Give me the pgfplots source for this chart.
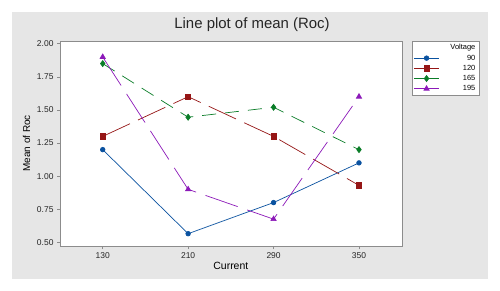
\documentclass[border=0pt]{standalone}
\usepackage{pgfplots}
\pgfplotsset{compat=1.18}
\usepackage{fontspec}
\setmainfont{Liberation Sans}
\definecolor{bggray}{RGB}{230,230,230}
\definecolor{c90}{RGB}{10,82,160}
\definecolor{c120}{RGB}{150,22,22}
\definecolor{c165}{RGB}{10,125,40}
\definecolor{c195}{RGB}{140,25,185}
\definecolor{framegray}{RGB}{140,140,140}
\begin{document}
\begin{tikzpicture}
\fill[white] (0,0) rectangle (500bp,291bp);
\fill[bggray] (12bp,12bp) rectangle (488bp,279bp);
\begin{axis}[
  at={(60bp,45bp)}, anchor=south west,
  scale only axis, width=341.7bp, height=205.3bp,
  axis background/.style={fill=white},
  axis line style={framegray},
  xmin=-0.5, xmax=3.5, ymin=0.472, ymax=2.023,
  xtick={0,1,2,3}, xticklabels={130,210,290,350},
  ytick={0.5,0.75,1,1.25,1.5,1.75,2},
  yticklabel style={/pgf/number format/fixed,/pgf/number format/zerofill,/pgf/number format/precision=2},
  /pgf/number format/assume math mode=true,
  tick align=outside, tick pos=left,
  major tick length=3bp,
  tick style={framegray, line width=0.6bp},
  ticklabel style={font=\fontsize{8.5}{10}\selectfont, text=black!85},
  every axis title shift=0pt,
  title={Line plot of mean (Roc)},
  title style={font=\fontsize{15}{18}\selectfont, text=black!85, at={(axis description cs:0.562,1.0765)}, anchor=center},
  xlabel={Current},
  xlabel style={font=\fontsize{10.5}{12}\selectfont, at={(axis description cs:0.5,-0.0974)}, anchor=center},
  ylabel={Mean of Roc},
  ylabel style={font=\fontsize{10}{12}\selectfont, at={(axis description cs:-0.0975,0.5)}, anchor=center},
  legend style={at={(axis description cs:1,1)}, anchor=north west, xshift=10.3bp,
    font=\fontsize{7.5}{8}\selectfont, draw=framegray, fill=white, inner sep=1.5bp, row sep=-0.5bp},
  legend cell align=right,
  legend image code/.code={\draw[solid,mark repeat=2,mark phase=2] plot coordinates {(0bp,0bp)(12.5bp,0bp)(25bp,0bp)};},
]
\addlegendimage{empty legend}
\addlegendentry{\makebox[34bp][r]{Voltage}}
\addplot[c90, line width=0.7bp, mark=*, mark size=2.3bp, mark options={solid,fill=c90}]
  coordinates {(0,1.20) (1,0.565) (2,0.80) (3,1.10)};
\addlegendentry{\makebox[34bp][r]{90}}
\addplot[c120, line width=0.7bp, dash pattern=on 30bp off 9bp, mark=square*, mark size=2.6bp, mark options={solid,fill=c120}]
  coordinates {(0,1.30) (1,1.60) (2,1.30) (3,0.93)};
\addlegendentry{\makebox[34bp][r]{120}}
\addplot[c165, line width=0.7bp, dash pattern=on 14bp off 9bp, mark=diamond*, mark size=3bp, mark options={solid,fill=c165}]
  coordinates {(0,1.85) (1,1.445) (2,1.52) (3,1.20)};
\addlegendentry{\makebox[34bp][r]{165}}
\addplot[c195, line width=0.7bp, dash pattern=on 34bp off 10bp, mark=triangle*, mark size=3bp, mark options={solid,fill=c195}]
  coordinates {(0,1.90) (1,0.90) (2,0.675) (3,1.60)};
\addlegendentry{\makebox[34bp][r]{195}}
\end{axis}
\end{tikzpicture}
\end{document}
